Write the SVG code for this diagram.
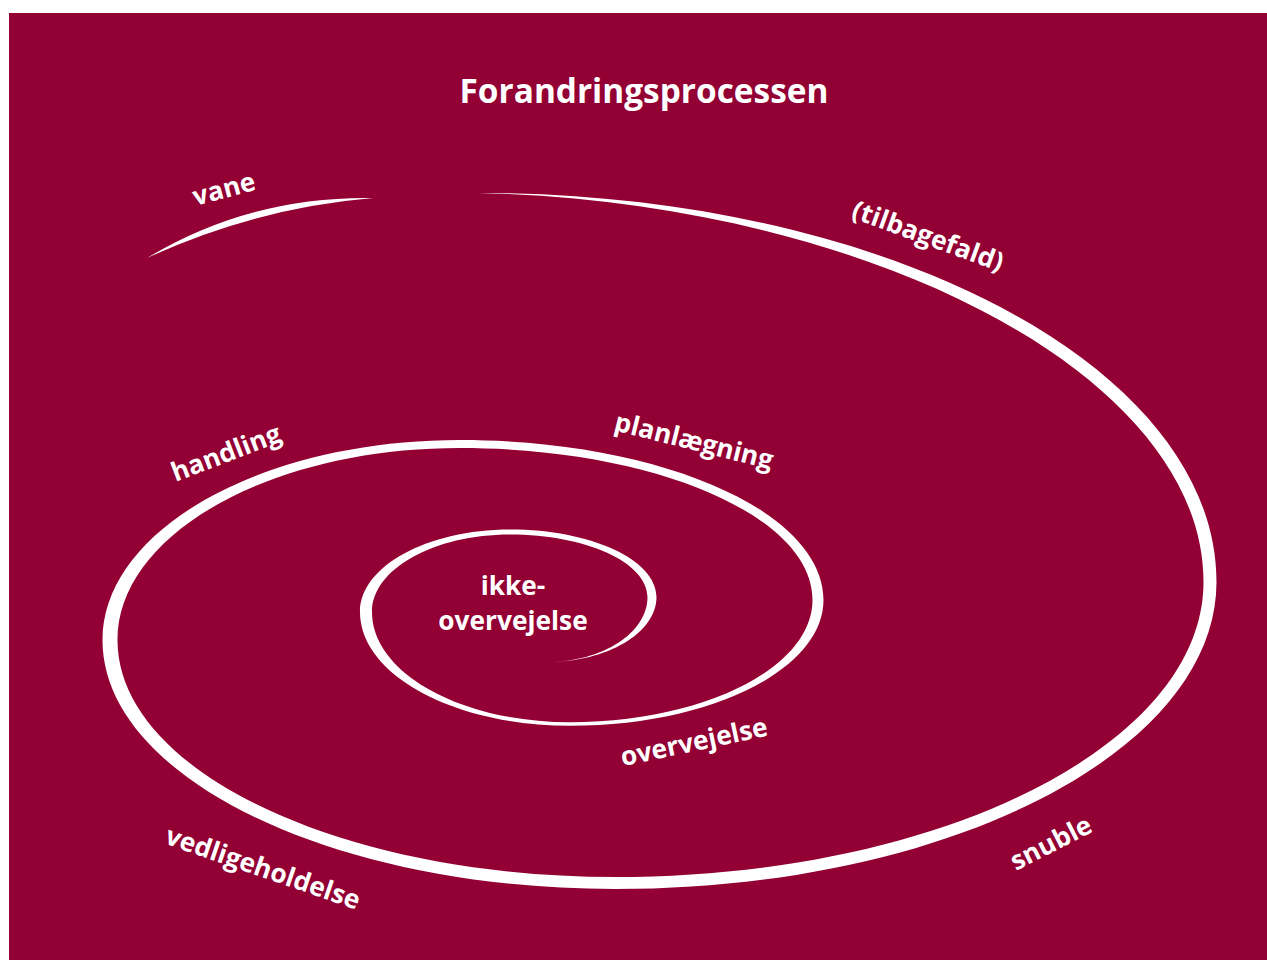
<svg xmlns="http://www.w3.org/2000/svg" width="1267" height="960" viewBox="0 0 1267 960">
<style>
.lbl{font-family:"Open Sans","Liberation Sans",sans-serif;font-weight:700;font-size:26.3px;fill:#ffffff;text-anchor:middle}
.ttl{font-family:"Open Sans","Liberation Sans",sans-serif;font-weight:700;font-size:33.4px;fill:#ffffff;text-anchor:middle}
.sp{fill:#ffffff;stroke:none}
</style>
<rect x="9" y="13" width="1258" height="947" fill="#930033"/>
<g id="title"><text class="ttl" x="644" y="103">Forandringsprocessen</text></g>
<g id="connectors">
<path id="vane-arc" class="sp" d="M147,258 Q250,196 373,198 Q255,208 147,258 Z"/>
<path id="spiral" class="sp" d="M478,193 C885.9,193 1216.5,367.2 1216.5,582 C1216.5,751.6 947.2,889 615,889 C331.9,889 102.5,777.5 102.5,640 C102.5,529.5 262.6,440 460,440 C660.8,440 823.5,511.6 823.5,600 C823.5,669.5 710,725.75 570,725.75 C454,725.75 360,674.8 360,612 C360,566.4 427.2,529.5 510,529.5 C590.9,529.5 656.5,559.7 656.5,597 C656.5,632.9 607.5,662 547,662 C602.5,662 647.5,632.9 647.5,597 C647.5,562.5 585.9,534.5 510,534.5 C433.8,534.5 372,569.2 372,612 C372,672.9 460.6,722.25 570,722.25 C703.9,722.25 812.5,667.5 812.5,600 C812.5,516.1 654.7,448 460,448 C270.8,448 117.5,534 117.5,640 C117.5,770.9 340.2,877 615,877 C940,877 1203.5,744.9 1203.5,582 C1203.5,372 860,201 478,193 Z"/>
</g>
<g id="vane"><text class="lbl" transform="translate(224,189) rotate(-15)" y="9">vane</text></g>
<g id="tilbagefald"><text class="lbl" transform="translate(928,236) rotate(20)" y="9">(tilbagefald)</text></g>
<g id="handling"><text class="lbl" transform="translate(226,453) rotate(-21)" y="9">handling</text></g>
<g id="planlaegning"><text class="lbl" transform="translate(694,441) rotate(14)" y="9">planlægning</text></g>
<g id="overvejelse"><text class="lbl" transform="translate(694,742) rotate(-12)" y="9">overvejelse</text></g>
<g id="vedligeholdelse"><text class="lbl" transform="translate(263,868) rotate(19)" y="9">vedligeholdelse</text></g>
<g id="snuble"><text class="lbl" transform="translate(1051,843) rotate(-27)" y="9">snuble</text></g>
<g id="ikke-overvejelse"><text class="lbl" x="513" y="595">ikke-</text><text class="lbl" x="513" y="630">overvejelse</text></g>
</svg>
